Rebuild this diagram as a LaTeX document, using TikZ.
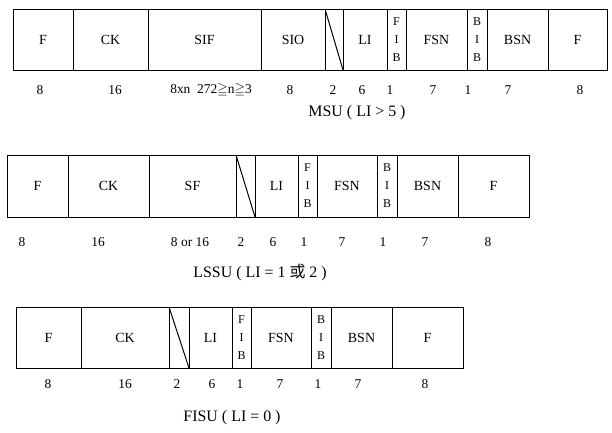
\documentclass[tikz,border=0pt]{standalone}
\usepackage{amsmath,amssymb}
\usepackage{fontspec}
\setmainfont{Liberation Serif}
\newfontfamily\cjk{Noto Sans CJK SC}
\usetikzlibrary{positioning}

\begin{document}
\begin{tikzpicture}[
  x=1bp, y=-1bp,
  cell/.style={draw, line width=1pt, inner sep=0pt, outer sep=0pt,
    font=\fontsize{14}{16}\selectfont, align=center},
  bitcell/.style={cell, minimum width=19bp, font=\fontsize{12}{18}\selectfont},
  num/.style={font=\fontsize{13.5}{15}\selectfont},
  title/.style={font=\fontsize{16}{18}\selectfont}
]
\useasboundingbox (0,0) rectangle (612,432);

% MSU row
\begin{scope}[every node/.append style={minimum height=61bp}]
\node[cell, minimum width=60bp, anchor=north west] (m1) at (13,9) {F};
\node[cell, minimum width=75bp, right=0pt of m1] (m2) {CK};
\node[cell, minimum width=113bp, right=0pt of m2] (m3) {SIF};
\node[cell, minimum width=64bp, right=0pt of m3] (m4) {SIO};
\node[cell, minimum width=18bp, right=0pt of m4] (m5) {};
\node[cell, minimum width=44bp, right=0pt of m5] (m6) {LI};
\node[bitcell, right=0pt of m6] (m7) {F\\I\\B};
\node[cell, minimum width=61bp, right=0pt of m7] (m8) {FSN};
\node[bitcell, minimum width=20bp, right=0pt of m8] (m9) {B\\I\\B};
\node[cell, minimum width=61bp, right=0pt of m9] (m10) {BSN};
\node[cell, minimum width=59bp, right=0pt of m10] (m11) {F};
\end{scope}
\draw[line width=1pt] (m5.north west) -- (m5.south east);

\foreach \x/\t [count=\i] in {40/8, 115/16, 211/{8xn\ \ 272$\geqq$n$\geqq$3}, 290/8, 333/2,
    362/6, 390/1, 433/7, 468/1, 508/7, 580/8}
  \node[num] (mn\i) at (\x,90) {\t};
\node[title] (msu) at (357,113) {MSU ( LI > 5 )};

% LSSU row
\begin{scope}[every node/.append style={minimum height=62bp}]
\node[cell, minimum width=61bp, anchor=north west] (l1) at (7,155) {F};
\node[cell, minimum width=81bp, right=0pt of l1] (l2) {CK};
\node[cell, minimum width=87bp, right=0pt of l2] (l3) {SF};
\node[cell, minimum width=19bp, right=0pt of l3] (l4) {};
\node[cell, minimum width=43bp, right=0pt of l4] (l5) {LI};
\node[bitcell, right=0pt of l5] (l6) {F\\I\\B};
\node[cell, minimum width=60bp, right=0pt of l6] (l7) {FSN};
\node[bitcell, minimum width=20bp, right=0pt of l7] (l8) {B\\I\\B};
\node[cell, minimum width=61bp, right=0pt of l8] (l9) {BSN};
\node[cell, minimum width=71bp, right=0pt of l9] (l10) {F};
\end{scope}
\draw[line width=1pt] (l4.north west) -- (l4.south east);

\foreach \x/\t [count=\i] in {22/8, 98/16, 190/8 or 16, 241/2, 273/6, 304/1,
    342/7, 383/1, 425/7, 488/8}
  \node[num] (ln\i) at (\x,242) {\t};
\node[title] (lssu) at (260,273) {LSSU ( LI = 1 {\cjk 或} 2 )};

% FISU row
\begin{scope}[every node/.append style={minimum height=61bp}]
\node[cell, minimum width=65bp, anchor=north west] (f1) at (16,307) {F};
\node[cell, minimum width=88bp, right=0pt of f1] (f2) {CK};
\node[cell, minimum width=20bp, right=0pt of f2] (f3) {};
\node[cell, minimum width=43bp, right=0pt of f3] (f4) {LI};
\node[bitcell, right=0pt of f4] (f5) {F\\I\\B};
\node[cell, minimum width=60bp, right=0pt of f5] (f6) {FSN};
\node[bitcell, minimum width=20bp, right=0pt of f6] (f7) {B\\I\\B};
\node[cell, minimum width=61bp, right=0pt of f7] (f8) {BSN};
\node[cell, minimum width=71bp, right=0pt of f8] (f9) {F};
\end{scope}
\draw[line width=1pt] (f3.north west) -- (f3.south east);

\foreach \x/\t [count=\i] in {48/8, 125/16, 177/2, 212/6, 240/1, 280/7,
    318/1, 358/7, 425/8}
  \node[num] (fn\i) at (\x,384) {\t};
\node[title] (fisu) at (232,418) {FISU ( LI = 0 )};

\end{tikzpicture}
\end{document}
